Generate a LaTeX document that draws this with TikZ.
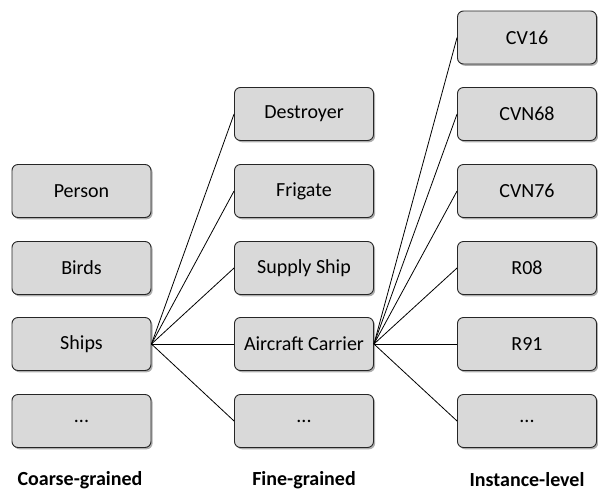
\documentclass[tikz,border=0pt]{standalone}
\usepackage{fontspec}
\setmainfont{Carlito}
\usetikzlibrary{shadows}
\begin{document}
\begin{tikzpicture}[x=1pt,y=-1pt,
  box/.style={draw=black!85, line width=0.9pt, rounded corners=6pt, fill=black!15,
    minimum width=139pt, minimum height=53pt, inner sep=0pt,
    font=\fontsize{20}{22}\selectfont,
    drop shadow={shadow xshift=1.6pt, shadow yshift=-1.8pt, fill=black!45, opacity=0.7}},
  lbl/.style={font=\fontsize{20}{22}\selectfont\bfseries, inner sep=0.5pt},
  link/.style={line width=0.8pt, black}]
\useasboundingbox (0,0) rectangle (598,491);
% column 1
\node[box] (person) at (81.5,191) {Person};
\node[box] (birds) at (81.5,268) {Birds};
\node[box] (ships) at (81.5,344) {Ships};
\node[box] (c1dots) at (81.5,421) {...};
% column 2
\node[box] (destroyer) at (304,114) {Destroyer};
\node[box] (frigate) at (304,191) {Frigate};
\node[box] (supply) at (304,268) {Supply Ship};
\node[box] (carrier) at (304,344) {Aircraft Carrier};
\node[box] (c2dots) at (304,421) {...};
% column 3
\node[box] (cv16) at (527,37.5) {CV16};
\node[box] (cvn68) at (527,114) {CVN68};
\node[box] (cvn76) at (527,191) {CVN76};
\node[box] (r08) at (527,268) {R08};
\node[box] (r91) at (527,344) {R91};
\node[box] (c3dots) at (527,421) {...};
% labels
\node[lbl] (l1) at (80,480) {Coarse-grained};
\node[lbl] (l2) at (304,480) {Fine-grained};
\node[lbl] (l3) at (527,480) {Instance-level};
% connectors
\foreach \t in {destroyer,frigate,supply,carrier,c2dots}
  \draw[link] (ships.east) -- (\t.west);
\foreach \t in {cv16,cvn68,cvn76,r08,r91,c3dots}
  \draw[link] (carrier.east) -- (\t.west);
\end{tikzpicture}
\end{document}
